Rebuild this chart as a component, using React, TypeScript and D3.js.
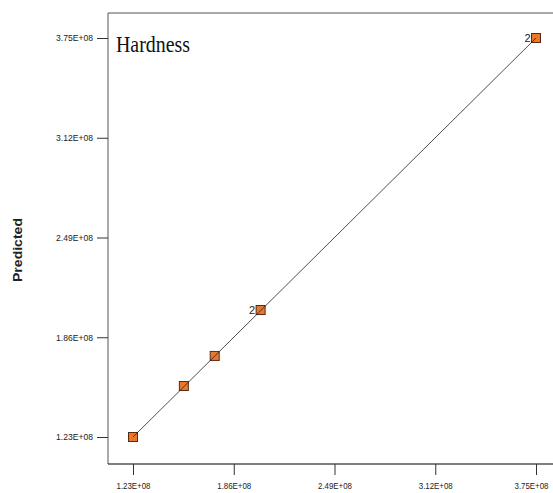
import { useEffect, useRef } from "react";
import * as d3 from "d3";

const actual = [1.23e8, 1.548e8, 1.741e8, 2.028e8, 3.75e8];
const predicted = [1.23e8, 1.552e8, 1.742e8, 2.032e8, 3.75e8];
const pointLabels = ["", "", "", "2", "2"];
const tickValues = [1.23e8, 1.86e8, 2.49e8, 3.12e8, 3.75e8];
const tickLabels = ["1.23E+08", "1.86E+08", "2.49E+08", "3.12E+08", "3.75E+08"];
const title = "Hardness";
const yTitle = "Predicted";

export default function App() {
  const svgRef = useRef<SVGSVGElement | null>(null);

  useEffect(() => {
    if (!svgRef.current) return;
    const svg = d3.select(svgRef.current);
    svg.selectAll("*").remove();

    const left = 108, top = 13, bottom = 464, right = 560;

    const x = d3.scaleLinear().domain([1.23e8, 3.75e8]).range([133, 536]);
    const y = d3.scaleLinear().domain([1.23e8, 3.75e8]).range([437, 38]);

    // frame
    svg.append("path")
      .attr("d", `M${left},${bottom}V${top}H${right}`)
      .attr("fill", "none")
      .attr("stroke", "#555")
      .attr("stroke-width", 1);
    svg.append("line")
      .attr("x1", left).attr("x2", right)
      .attr("y1", bottom).attr("y2", bottom)
      .attr("stroke", "#000").attr("stroke-width", 1.2);

    // x axis
    const xAxis = svg.append("g")
      .attr("transform", `translate(0,${bottom})`)
      .call(d3.axisBottom(x).tickValues(tickValues).tickSize(11).tickPadding(8)
        .tickFormat((_, i) => tickLabels[i]));
    xAxis.select(".domain").remove();
    xAxis.selectAll("line").attr("stroke", "#333");
    xAxis.selectAll("text")
      .attr("font-family", "Liberation Sans, Arial, sans-serif")
      .attr("font-size", 9).attr("fill", "#222")
      .attr("textLength", 34).attr("lengthAdjust", "spacingAndGlyphs");
    // last label sits against the right edge
    xAxis.selectAll<SVGGElement, number>(".tick")
      .filter((d) => d === tickValues[tickValues.length - 1])
      .select("text")
      .attr("text-anchor", "end")
      .attr("x", 548 - x(tickValues[tickValues.length - 1]));

    // y axis
    const yAxis = svg.append("g")
      .attr("transform", `translate(${left},0)`)
      .call(d3.axisLeft(y).tickValues(tickValues).tickSize(11).tickPadding(4)
        .tickFormat((_, i) => tickLabels[i]));
    yAxis.select(".domain").remove();
    yAxis.selectAll("line").attr("stroke", "#333");
    yAxis.selectAll("text")
      .attr("font-family", "Liberation Sans, Arial, sans-serif")
      .attr("font-size", 9).attr("fill", "#222")
      .attr("textLength", 37).attr("lengthAdjust", "spacingAndGlyphs");

    // title
    svg.append("text")
      .attr("x", 116).attr("y", 52)
      .attr("font-family", "Liberation Serif, Times New Roman, serif")
      .attr("font-size", 24).attr("fill", "#111")
      .attr("textLength", 74).attr("lengthAdjust", "spacingAndGlyphs")
      .text(title);

    svg.append("text")
      .attr("transform", `translate(22,250) rotate(-90)`)
      .attr("text-anchor", "middle")
      .attr("font-family", "Liberation Sans, Arial, sans-serif")
      .attr("font-size", 12).attr("font-weight", "bold").attr("fill", "#222")
      .attr("textLength", 64).attr("lengthAdjust", "spacingAndGlyphs")
      .text(yTitle);

    // points
    const s = 9;
    svg.selectAll(".pt")
      .data(actual)
      .join("rect")
      .attr("class", "pt")
      .attr("x", (d) => x(d) - s / 2)
      .attr("y", (_, i) => y(predicted[i]) - s / 2)
      .attr("width", s).attr("height", s)
      .attr("fill", "#e8782a")
      .attr("stroke", "#5a2a10").attr("stroke-width", 1);

    // fit line
    svg.append("line")
      .attr("x1", x(1.23e8)).attr("y1", y(1.23e8))
      .attr("x2", x(3.75e8)).attr("y2", y(3.75e8))
      .attr("stroke", "#222").attr("stroke-width", 0.8);

    svg.selectAll(".lbl")
      .data(actual)
      .join("text")
      .attr("class", "lbl")
      .attr("x", (d) => x(d) - s / 2 - 1)
      .attr("y", (_, i) => y(predicted[i]) + 4)
      .attr("text-anchor", "end")
      .attr("font-family", "Liberation Sans, Arial, sans-serif")
      .attr("font-size", 11).attr("fill", "#222")
      .text((_, i) => pointLabels[i]);
  }, []);

  return (
    <svg
      ref={svgRef}
      width={553}
      height={493}
      style={{ position: "absolute", left: 0, top: 0, background: "#fff" }}
    />
  );
}
